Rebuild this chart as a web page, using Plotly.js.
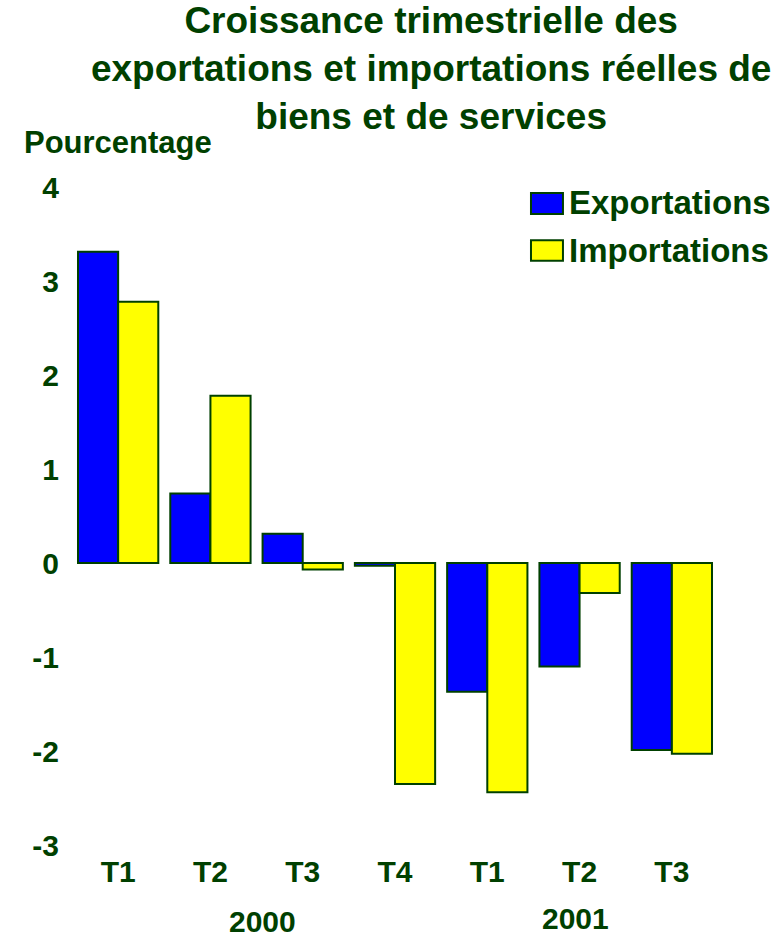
<!DOCTYPE html>
<html>
<head>
<meta charset="utf-8">
<script src="https://cdn.plot.ly/plotly-3.0.1.min.js"></script>
<style>
  body { margin: 0; background: #fff; }
  #chart { width: 781px; height: 938px; }
</style>
</head>
<body>
<div id="chart"></div>
<script>
// quarterly growth, in percent
var quarters = ['T1', 'T2', 'T3', 'T4', 'T1', 'T2', 'T3'];
var exportations = [3.31, 0.74, 0.31, -0.03, -1.37, -1.10, -1.99];
var importations = [2.78, 1.78, -0.07, -2.35, -2.44, -0.32, -2.03];
var yTicks = [4, 3, 2, 1, 0, -1, -2, -3];
var yTickText = ['4', '3', '2', '1', '0', '-1', '-2', '-3'];
var years = ['2000', '2001'];
var seriesNames = ['Exportations', 'Importations'];

var green = '#004000';
var font = 'Liberation Sans, Arial, sans-serif';
var idx = quarters.map(function (q, i) { return i; });

var trExp = {
  x: idx, y: exportations, type: 'bar', name: seriesNames[0],
  marker: { color: '#0000ff', line: { color: green, width: 2 } }
};
var trImp = {
  x: idx, y: importations, type: 'bar', name: seriesNames[1],
  marker: { color: '#ffff00', line: { color: green, width: 2 } }
};

// hand-made legend with large boxes like the original
var legendShapes = [
  { type: 'rect', xref: 'paper', yref: 'paper', x0: 0.7105, x1: 0.760, y0: 0.959, y1: 0.991,
    fillcolor: '#0000ff', line: { color: green, width: 2 } },
  { type: 'rect', xref: 'paper', yref: 'paper', x0: 0.7105, x1: 0.760, y0: 0.888, y1: 0.919,
    fillcolor: '#ffff00', line: { color: green, width: 2 } }
];

var layout = {
  width: 781,
  height: 938,
  margin: { l: 72, r: 63, t: 187, b: 93 },
  paper_bgcolor: '#fff',
  plot_bgcolor: '#fff',
  showlegend: false,
  barmode: 'group',
  bargap: 0.13,
  bargroupgap: 0,
  font: { family: font, color: green, size: 30, weight: 'bold' },
  title: {
    text: '<b>Croissance trimestrielle des<br>exportations et importations réelles de<br>biens et de services</b>',
    font: { family: font, size: 37, color: green },
    x: 0.556, xanchor: 'center', xref: 'paper',
    y: 0.965, yanchor: 'top', yref: 'container'
  },
  xaxis: {
    range: [-0.5, 6.5],
    tickvals: idx,
    ticktext: quarters.map(function (q) { return '<b>' + q + '</b>'; }),
    tickfont: { family: font, size: 30, color: green },
    showgrid: false, zeroline: false, showline: false, ticks: '',
    ticklabelstandoff: 6
  },
  yaxis: {
    range: [-3, 4],
    tickvals: yTicks,
    ticktext: yTickText.map(function (t) { return '<b>' + t + '</b>'; }),
    tickfont: { family: font, size: 30, color: green },
    showgrid: false, zeroline: false, showline: false, ticks: '',
    ticklabelstandoff: 12
  },
  shapes: legendShapes,
  annotations: [
    { text: '<b>Pourcentage</b>', xref: 'paper', yref: 'paper', x: -0.077, y: 1.067,
      xanchor: 'left', yanchor: 'middle', showarrow: false,
      font: { family: font, size: 31, color: green } },
    { text: '<b>' + years[0] + '</b>', xref: 'x', yref: 'paper', x: 1.56, y: -0.117,
      xanchor: 'center', yanchor: 'middle', showarrow: false,
      font: { family: font, size: 30, color: green } },
    { text: '<b>' + years[1] + '</b>', xref: 'x', yref: 'paper', x: 4.96, y: -0.111,
      xanchor: 'center', yanchor: 'middle', showarrow: false,
      font: { family: font, size: 30, color: green } },
    { text: '<b>' + seriesNames[0] + '</b>', xref: 'paper', yref: 'paper', x: 0.766, y: 0.976,
      xanchor: 'left', yanchor: 'middle', showarrow: false,
      font: { family: font, size: 33, color: green } },
    { text: '<b>' + seriesNames[1] + '</b>', xref: 'paper', yref: 'paper', x: 0.766, y: 0.904,
      xanchor: 'left', yanchor: 'middle', showarrow: false,
      font: { family: font, size: 33, color: green } }
  ]
};

Plotly.newPlot('chart', [trExp, trImp], layout, { displayModeBar: false });
</script>
</body>
</html>
